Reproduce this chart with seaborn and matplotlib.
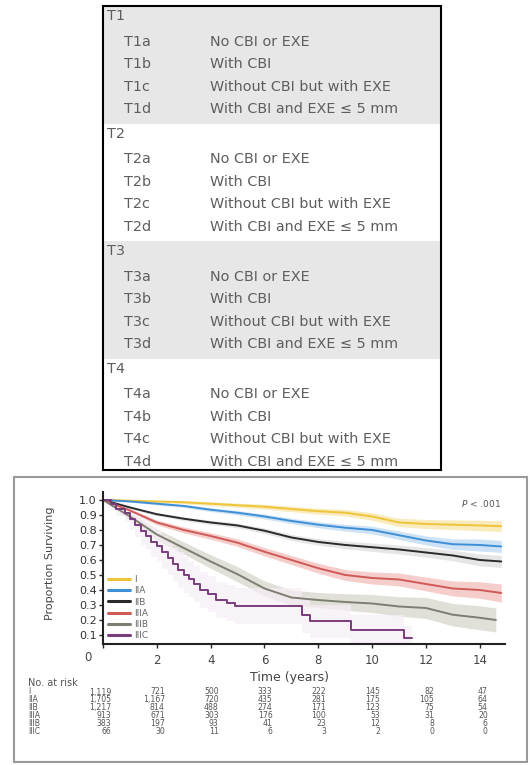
import matplotlib
matplotlib.use('Agg')
import matplotlib.pyplot as plt
import matplotlib.patches as patches
import matplotlib.transforms as mtransforms
import seaborn as sns

# ---- T category table ----
groups = ['T1', 'T2', 'T3', 'T4']
sub_letters = ['a', 'b', 'c', 'd']
descriptions = ['No CBI or EXE', 'With CBI', 'Without CBI but with EXE',
                'With CBI and EXE \u2264 5 mm']

# ---- survival curves ----
stages = ['I', 'IIA', 'IIB', 'IIIA', 'IIIB', 'IIIC']
colors = ['#eec43a', '#3f8fd6', '#2a2a2a', '#cf5a58', '#7d7d72', '#7a3d7c']
band_colors = ['#f7e3a0', '#b9d6f1', '#dcdcdc', '#f1b9b6', '#d3d3c8', '#f6eef6']

t_year = [0, 1, 2, 3, 4, 5, 6, 7, 8, 9, 10, 11, 12, 13, 14, 14.8]
surv_I = [1, 0.995, 0.99, 0.985, 0.975, 0.965, 0.955, 0.94, 0.925, 0.915, 0.89, 0.85, 0.84, 0.835, 0.83, 0.825]
hw_I = [0, .005, .008, .01, .012, .014, .016, .018, .02, .022, .025, .028, .03, .032, .035, .035]
surv_IIA = [1, 0.99, 0.975, 0.96, 0.935, 0.915, 0.89, 0.86, 0.835, 0.815, 0.80, 0.765, 0.73, 0.705, 0.70, 0.69]
hw_IIA = [0, .005, .008, .01, .012, .014, .016, .018, .02, .022, .025, .028, .03, .035, .04, .04]
surv_IIB = [1, 0.95, 0.905, 0.875, 0.85, 0.83, 0.795, 0.75, 0.72, 0.70, 0.685, 0.67, 0.65, 0.63, 0.60, 0.59]
hw_IIB = [0, .008, .01, .012, .014, .016, .018, .02, .022, .025, .028, .03, .032, .035, .04, .04]
surv_IIIA = [1, 0.93, 0.85, 0.80, 0.76, 0.715, 0.655, 0.60, 0.545, 0.50, 0.48, 0.47, 0.44, 0.41, 0.40, 0.38]
hw_IIIA = [0, .012, .016, .02, .022, .025, .028, .03, .033, .036, .04, .043, .046, .05, .055, .06]

t_IIIB = [0, 1, 2, 3, 4, 5, 6, 7, 8, 9, 10, 11, 12, 13, 14, 14.6]
surv_IIIB = [1, 0.89, 0.77, 0.68, 0.59, 0.505, 0.41, 0.35, 0.333, 0.32, 0.31, 0.29, 0.28, 0.235, 0.215, 0.20]
hw_IIIB = [0, .025, .035, .04, .045, .05, .05, .05, .05, .055, .06, .065, .07, .075, .08, .08]

t_IIIC = [0, 0.3, 0.5, 0.8, 1.0, 1.2, 1.4, 1.6, 1.8, 2.0, 2.2, 2.4, 2.6, 2.8, 3.0, 3.2, 3.4,
          3.6, 3.9, 4.2, 4.6, 4.9, 7.4, 7.7, 9.2, 11.2, 11.5]
surv_IIIC = [1, 0.97, 0.94, 0.91, 0.87, 0.83, 0.79, 0.76, 0.72, 0.69, 0.65, 0.61, 0.57, 0.53,
             0.50, 0.47, 0.44, 0.40, 0.37, 0.33, 0.31, 0.29, 0.23, 0.19, 0.13, 0.08, 0.08]
hw_IIIC = [0, .04, .05, .06, .07, .08, .09, .09, .10, .10, .11, .11, .11, .12, .12, .12, .12,
           .12, .12, .12, .12, .12, .12, .11, .10, .08, .08]

curve_t = [t_year, t_year, t_year, t_year, t_IIIB, t_IIIC]
curve_s = [surv_I, surv_IIA, surv_IIB, surv_IIIA, surv_IIIB, surv_IIIC]
curve_hw = [hw_I, hw_IIA, hw_IIB, hw_IIIA, hw_IIIB, hw_IIIC]

# ---- numbers at risk ----
risk_times = [0, 2, 4, 6, 8, 10, 12, 14]
risk_I = [1119, 721, 500, 333, 222, 145, 82, 47]
risk_IIA = [1705, 1167, 720, 435, 281, 175, 105, 64]
risk_IIB = [1217, 814, 488, 274, 171, 123, 75, 54]
risk_IIIA = [913, 671, 303, 176, 100, 53, 31, 20]
risk_IIIB = [383, 197, 93, 41, 23, 12, 8, 6]
risk_IIIC = [66, 30, 11, 6, 3, 2, 0, 0]
risk_rows = [risk_I, risk_IIA, risk_IIB, risk_IIIA, risk_IIIB, risk_IIIC]

sns.set_style('white')
plt.rcParams['font.family'] = ['DejaVu Sans']

W, H = 530, 765
fig = plt.figure(figsize=(W / 100, H / 100), dpi=100)

# ---------------- table ----------------
tx0, tx1, ty0, ty1 = 103, 441, 6, 470
tab = fig.add_axes([tx0 / W, 1 - ty1 / H, (tx1 - tx0) / W, (ty1 - ty0) / H])
tab.set_xlim(0, tx1 - tx0)
tab.set_ylim(ty1 - ty0, 0)
tab.set_xticks([])
tab.set_yticks([])
for s in tab.spines.values():
    s.set_color('black')
    s.set_linewidth(1.5)

grp_h = 117.5
txt_col = '#5e5e5e'
fs_tab = 10.4
for g, name in enumerate(groups):
    top = g * grp_h
    if g % 2 == 0:
        tab.add_patch(patches.Rectangle((0, top), tx1 - tx0, grp_h, color='#e7e7e7', lw=0))
    tab.text(4, top + 10, name, fontsize=fs_tab, color=txt_col, va='center')
    for i, (let, desc) in enumerate(zip(sub_letters, descriptions)):
        y = top + 35.5 + i * 22.6
        tab.text(21, y, name + let, fontsize=fs_tab, color=txt_col, va='center')
        tab.text(107, y, desc, fontsize=fs_tab, color=txt_col, va='center')

# ---------------- KM panel ----------------
fig.patches.append(patches.Rectangle((14 / W, 1 - 762 / H), (527 - 14) / W, (762 - 477) / H,
                                     transform=fig.transFigure, fill=False,
                                     edgecolor='#9a9a9a', lw=1.5))

ax_l, ax_r, ax_t, ax_b = 103, 505, 492, 644
ax = fig.add_axes([ax_l / W, 1 - ax_b / H, (ax_r - ax_l) / W, (ax_b - ax_t) / H])
ax.set_xlim(0, 14.94)
ax.set_ylim(0.04, 1.053)

for k, st in enumerate(stages):
    step = 'post' if st == 'IIIC' else None
    lo = [s - h for s, h in zip(curve_s[k], curve_hw[k])]
    hi = [s + h for s, h in zip(curve_s[k], curve_hw[k])]
    ax.fill_between(curve_t[k], lo, hi, color=band_colors[k], alpha=0.7, lw=0, step=step)

for k, st in enumerate(stages):
    ds = 'steps-post' if st == 'IIIC' else 'default'
    sns.lineplot(x=curve_t[k], y=curve_s[k], ax=ax, color=colors[k], lw=1.4,
                 drawstyle=ds, estimator=None, sort=False, label=st)

sns.despine(ax=ax)
for s in ['left', 'bottom']:
    ax.spines[s].set_color('#222222')
    ax.spines[s].set_linewidth(1.5)

ax.set_yticks([0.1, 0.2, 0.3, 0.4, 0.5, 0.6, 0.7, 0.8, 0.9, 1.0])
ax.set_yticklabels(['0.1', '0.2', '0.3', '0.4', '0.5', '0.6', '0.7', '0.8', '0.9', '1.0'])
ax.set_xticks(risk_times)
ax.set_xticklabels([''] + [str(t) for t in risk_times[1:]])
ax.tick_params(axis='y', direction='out', length=3, width=1, pad=1.5, labelsize=8,
               labelcolor='#333333', left=True)
ax.tick_params(axis='x', direction='out', length=3, width=1, pad=4, labelsize=8.5,
               labelcolor='#444444', bottom=True)
# the "0" label sits left of the origin in the original
ax.text(0, -0.092, '0', transform=mtransforms.blended_transform_factory(ax.transData, ax.transAxes)
        + mtransforms.ScaledTranslation(-15 / 100, 0, fig.dpi_scale_trans),
        ha='center', va='center', fontsize=8.5, color='#444444')

ax.set_xlabel('Time (years)', fontsize=9, color='#444444')
ax.xaxis.set_label_coords((290 - ax_l) / (ax_r - ax_l), -(678 - ax_b) / (ax_b - ax_t))
ax.xaxis.label.set_va('center')
ax.set_ylabel('Proportion Surviving', fontsize=8, color='#444444')
ax.yaxis.set_label_coords((50 - ax_l) / (ax_r - ax_l), (ax_b - 563) / (ax_b - ax_t))
ax.yaxis.label.set_va('center')

ax.text((481 - ax_l) / (ax_r - ax_l), (ax_b - 503) / (ax_b - ax_t), '$P$ < .001',
        transform=ax.transAxes, ha='center', va='center', fontsize=6.5, color='#555555')

leg = ax.legend(loc='upper left', bbox_to_anchor=((108 - ax_l) / (ax_r - ax_l), (ax_b - 575) / (ax_b - ax_t)),
                frameon=False, fontsize=6.5, handlelength=2.4, handletextpad=0.5,
                labelspacing=0.25, borderpad=0, borderaxespad=0, labelcolor='#666666')
for h in leg.get_lines():
    h.set_linewidth(2.2)

# numbers at risk
bt = mtransforms.blended_transform_factory(ax.transData, fig.transFigure)
num_tf = bt + mtransforms.ScaledTranslation(8 / 100, 0, fig.dpi_scale_trans)
fig.text(28 / W, 1 - 683 / H, 'No. at risk', fontsize=7, color='#555555', va='center')
for r, (st, row) in enumerate(zip(stages, risk_rows)):
    y = 1 - (692 + r * 7.9) / H
    fig.text(28 / W, y, st, fontsize=5.6, color='#555555', va='center')
    for t, n in zip(risk_times, row):
        ax.text(t, y, f'{n:,}', transform=num_tf, ha='right', va='center',
                fontsize=5.6, color='#555555')

fig.savefig('out.png', dpi=100)
